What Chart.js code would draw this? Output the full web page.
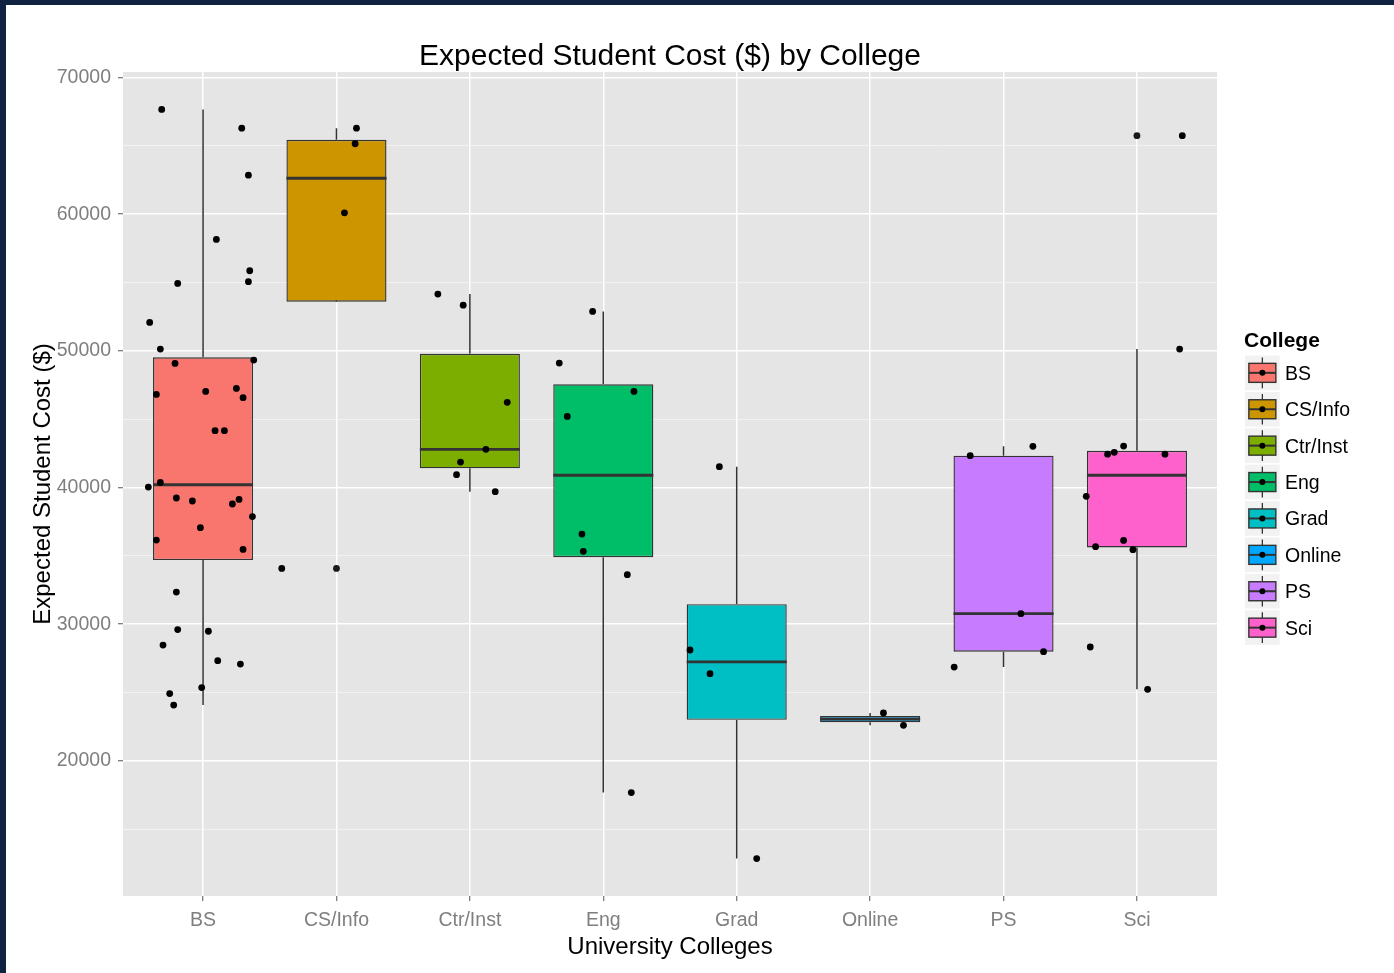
<!DOCTYPE html>
<html lang="en">
<head>
  <meta charset="UTF-8" />
  <title>Expected Student Cost by College</title>
  <script src="https://cdn.jsdelivr.net/npm/chart.js"></script>
  <style>
    html, body {
      margin: 0;
      padding: 0;
    }
    body {
      background-color: #0f2340;
      width: 1394px;
      height: 973px;
      overflow: hidden;
    }
    #plot {
      position: absolute;
      left: 6px;
      top: 5px;
      width: 1388px;
      height: 968px;
      background-color: #fff;
    }
  </style>
</head>
<body>

<div id="plot"><canvas id="costChart" width="1388" height="968"></canvas></div>

<script>
  const colleges = ['BS', 'CS/Info', 'Ctr/Inst', 'Eng', 'Grad', 'Online', 'PS', 'Sci'];
  const fills = ['#F8766D', '#CD9600', '#7CAE00', '#00BE67', '#00BFC4', '#00A9FF', '#C77CFF', '#FF61CC'];

  // expected cost per student, one array per college
  const costBS = [67660, 66290, 62850, 58150, 54930, 55060, 55860, 52080, 50130, 49080, 49320, 46810,
                  47030, 47250, 46570, 44160, 44160, 40030, 40370, 39230, 39010, 38790, 39130, 37870,
                  37060, 36150, 35470, 32350, 29600, 29480, 28470, 27330, 27080, 25360, 24920, 24080];
  const costCS = [66290, 65150, 60100, 34080];
  const costCtr = [54150, 53340, 46230, 42790, 41860, 40940, 39690];
  const costEng = [52880, 49100, 47030, 45200, 36590, 35330, 33620, 17680];
  const costGrad = [41520, 28110, 26380, 12850];
  const costOnline = [23500, 22600];
  const costPS = [42330, 43010, 30770, 27990, 26860];
  const costSci = [65740, 50130, 42440, 42570, 43030, 42440, 39350, 36130, 35670, 35450, 28330, 25230];

  // horizontal jitter of each student point, in category units
  const jitterBS = [-0.31, 0.29, 0.34, 0.10, -0.19, 0.34, 0.35, -0.40, -0.32, -0.21, 0.38, -0.35,
                    0.02, 0.25, 0.30, 0.09, 0.16, -0.41, -0.32, -0.20, -0.08, 0.22, 0.27, 0.37,
                    -0.02, -0.35, 0.30, -0.20, -0.19, 0.04, -0.30, 0.11, 0.28, -0.01, -0.25, -0.22];
  const jitterCS = [0.15, 0.14, 0.06, -0.41];
  const jitterCtr = [-0.24, -0.05, 0.28, 0.12, -0.07, -0.10, 0.19];
  const jitterEng = [-0.08, -0.33, 0.23, -0.27, -0.16, -0.15, 0.18, 0.21];
  const jitterGrad = [-0.13, -0.35, -0.20, 0.15];
  const jitterOnline = [0.10, 0.25];
  const jitterPS = [-0.25, 0.22, 0.13, 0.30, -0.37];
  const jitterSci = [0.34, 0.32, -0.22, -0.17, -0.10, 0.21, -0.38, -0.10, -0.31, -0.03, -0.35, 0.08];

  const yMajorTicks = [20000, 30000, 40000, 50000, 60000, 70000];

  const costs = [costBS, costCS, costCtr, costEng, costGrad, costOnline, costPS, costSci];
  const jitters = [jitterBS, jitterCS, jitterCtr, jitterEng, jitterGrad, jitterOnline, jitterPS, jitterSci];

  // quantile (type 7, same as R's default)
  function quantile(sorted, p) {
    const h = (sorted.length - 1) * p;
    const lo = Math.floor(h);
    const next = lo + 1 < sorted.length ? sorted[lo + 1] : sorted[lo];
    return sorted[lo] + (h - lo) * (next - sorted[lo]);
  }

  function boxStats(values) {
    const s = [...values].sort((a, b) => a - b);
    const q1 = quantile(s, 0.25), med = quantile(s, 0.5), q3 = quantile(s, 0.75);
    const iqr = q3 - q1;
    const inside = s.filter(v => v >= q1 - 1.5 * iqr && v <= q3 + 1.5 * iqr);
    return {
      q1, med, q3,
      lo: inside[0],
      hi: inside[inside.length - 1],
      out: s.filter(v => v < q1 - 1.5 * iqr || v > q3 + 1.5 * iqr)
    };
  }

  const stats = costs.map(boxStats);

  const allCosts = costs.flat();
  const dataMin = Math.min(...allCosts), dataMax = Math.max(...allCosts);
  const pad = (dataMax - dataMin) * 0.05;
  const yMinorTicks = yMajorTicks.map(v => v - 5000);

  const boxData = stats.map((s, i) => ({ x: i, y: [s.q1, s.q3] }));
  const outlierData = [];
  stats.forEach((s, i) => s.out.forEach(v => outlierData.push({ x: i, y: v })));
  const pointData = [];
  costs.forEach((arr, i) => arr.forEach((v, k) => pointData.push({ x: i + jitters[i][k], y: v })));

  const FONT = "'Liberation Sans', Arial, Helvetica, sans-serif";
  Chart.defaults.font.family = FONT;

  // grey panel behind the grid
  const panelBackground = {
    id: 'panelBackground',
    beforeDraw(chart) {
      const { ctx, chartArea: a } = chart;
      ctx.save();
      ctx.fillStyle = '#E5E5E5';
      ctx.fillRect(a.left, a.top, a.right - a.left, a.bottom - a.top);
      ctx.restore();
    }
  };

  // whiskers under the boxes, medians on top of them
  const boxParts = {
    id: 'boxParts',
    beforeDatasetsDraw(chart) {
      const { ctx, scales: { x, y } } = chart;
      ctx.save();
      ctx.strokeStyle = '#333333';
      ctx.lineWidth = 1.5;
      stats.forEach((s, i) => {
        const px = x.getPixelForValue(i);
        ctx.beginPath();
        ctx.moveTo(px, y.getPixelForValue(s.hi));
        ctx.lineTo(px, y.getPixelForValue(s.q3));
        ctx.moveTo(px, y.getPixelForValue(s.q1));
        ctx.lineTo(px, y.getPixelForValue(s.lo));
        ctx.stroke();
      });
      ctx.restore();
    },
    afterDatasetDraw(chart, args) {
      if (args.meta.type !== 'bar') return;
      const { ctx, scales: { y } } = chart;
      ctx.save();
      ctx.strokeStyle = '#333333';
      ctx.lineWidth = 2.8;
      args.meta.data.forEach((bar, i) => {
        const half = bar.width / 2;
        const py = y.getPixelForValue(stats[i].med);
        ctx.beginPath();
        ctx.moveTo(bar.x - half, py);
        ctx.lineTo(bar.x + half, py);
        ctx.stroke();
      });
      ctx.restore();
    }
  };

  // legend with a small box glyph per college
  const collegeLegend = {
    id: 'collegeLegend',
    afterDraw(chart) {
      const { ctx, chartArea: a } = chart;
      const x0 = a.right + 28;
      const top = 350.5;
      const rowH = 36.4;
      const key = 34.7;
      ctx.save();
      ctx.fillStyle = '#000';
      ctx.textBaseline = 'middle';
      ctx.textAlign = 'left';
      ctx.font = 'bold 21px ' + FONT;
      ctx.fillText('College', x0 - 1, 336);
      ctx.font = '19.5px ' + FONT;
      colleges.forEach((name, i) => {
        const y0 = top + i * rowH;
        const cx = x0 + key / 2, cy = y0 + key / 2;
        ctx.fillStyle = '#F2F2F2';
        ctx.fillRect(x0, y0, key, key);
        ctx.strokeStyle = '#333333';
        ctx.lineWidth = 1.3;
        ctx.beginPath();
        ctx.moveTo(cx, y0 + 2);
        ctx.lineTo(cx, y0 + key - 2);
        ctx.stroke();
        ctx.fillStyle = fills[i];
        ctx.fillRect(cx - 13.5, cy - 9.5, 27, 19);
        ctx.lineWidth = 1.4;
        ctx.strokeRect(cx - 13.5, cy - 9.5, 27, 19);
        ctx.lineWidth = 2;
        ctx.beginPath();
        ctx.moveTo(cx - 13.5, cy);
        ctx.lineTo(cx + 13.5, cy);
        ctx.stroke();
        ctx.fillStyle = '#000';
        ctx.beginPath();
        ctx.arc(cx, cy, 3, 0, Math.PI * 2);
        ctx.fill();
        ctx.fillText(name, x0 + 40, cy + 1.5);
      });
      ctx.restore();
    }
  };

  const chart = new Chart(document.getElementById('costChart').getContext('2d'), {
    type: 'bar',
    data: {
      datasets: [
        {
          type: 'scatter',
          data: pointData,
          pointRadius: 3.4,
          pointBackgroundColor: '#000',
          pointBorderWidth: 0,
          order: 0
        },
        {
          type: 'scatter',
          data: outlierData,
          pointRadius: 3.4,
          pointBackgroundColor: '#1a1a1a',
          pointBorderWidth: 0,
          order: 1
        },
        {
          type: 'bar',
          data: boxData,
          backgroundColor: fills,
          borderColor: '#333333',
          borderWidth: 1.4,
          borderSkipped: false,
          categoryPercentage: 1,
          barPercentage: 0.75,
          order: 2
        }
      ]
    },
    options: {
      responsive: false,
      animation: false,
      events: [],
      layout: { padding: { left: 0, top: 0, right: 177, bottom: 0 } },
      plugins: {
        legend: { display: false },
        tooltip: { enabled: false },
        title: {
          display: true,
          fullSize: false,
          text: 'Expected Student Cost ($) by College',
          color: '#000',
          font: { size: 30, weight: 'normal', lineHeight: 1 },
          padding: { top: 37, bottom: 0 }
        }
      },
      scales: {
        x: {
          type: 'linear',
          min: -0.6,
          max: 7.6,
          offset: false,
          afterBuildTicks: scale => { scale.ticks = colleges.map((_, i) => ({ value: i })); },
          afterFit: scale => { scale.height = 77; },
          ticks: {
            autoSkip: false,
            maxRotation: 0,
            padding: 8,
            color: '#7F7F7F',
            font: { size: 19.5 },
            callback: value => colleges[value]
          },
          grid: {
            offset: false,
            color: '#FFFFFF',
            lineWidth: 1.5,
            tickLength: 5,
            tickColor: '#555555',
            tickWidth: 1
          },
          border: { display: false },
          title: {
            display: true,
            text: 'University Colleges',
            color: '#000',
            font: { size: 24 },
            padding: { top: 0, bottom: 11 }
          }
        },
        y: {
          type: 'linear',
          min: dataMin - pad,
          max: dataMax + pad,
          beginAtZero: false,
          afterBuildTicks: scale => {
            scale.ticks = [...yMinorTicks, ...yMajorTicks].sort((a, b) => a - b).map(v => ({ value: v }));
          },
          afterFit: scale => { scale.width = 117; },
          ticks: {
            autoSkip: false,
            padding: 7,
            color: '#7F7F7F',
            font: { size: 19.5 },
            callback: value => (yMajorTicks.includes(value) ? String(value) : '')
          },
          grid: {
            color: ctx => (yMajorTicks.includes(ctx.tick.value) ? '#FFFFFF' : '#F5F5F5'),
            lineWidth: ctx => (yMajorTicks.includes(ctx.tick.value) ? 1.5 : 0.8),
            tickLength: 5,
            tickColor: ctx => (yMajorTicks.includes(ctx.tick.value) ? '#555555' : 'rgba(0,0,0,0)'),
            tickWidth: 1
          },
          border: { display: false },
          title: {
            display: true,
            text: 'Expected Student Cost ($)',
            color: '#000',
            font: { size: 24 },
            padding: { top: 23, bottom: 0 }
          }
        }
      }
    },
    plugins: [panelBackground, boxParts, collegeLegend]
  });
</script>

</body>
</html>
